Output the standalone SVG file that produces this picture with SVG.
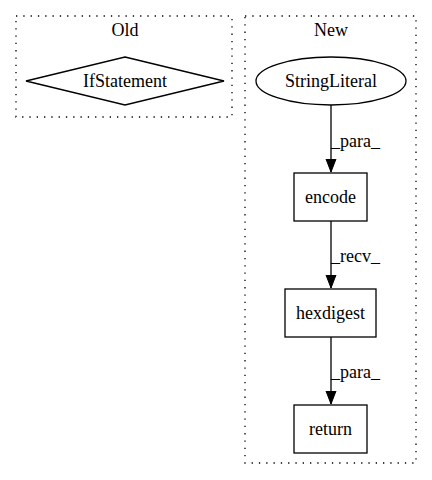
<svg xmlns="http://www.w3.org/2000/svg" width="432" height="480" viewBox="0 0 432 480">
<defs>
<style>
text{font-family:"Liberation Serif","Times New Roman",serif;font-size:18px;fill:#000}
.c{fill:none;stroke:#000;stroke-width:1.3;stroke-dasharray:1.3,6}
.n{fill:#fff;stroke:#000;stroke-width:1.3}
.e{fill:none;stroke:#000;stroke-width:1.3}
</style>
<marker id="ah" markerWidth="14" markerHeight="12" refX="13" refY="6" orient="auto" markerUnits="userSpaceOnUse">
<path d="M0,1 L13,6 L0,11 Z" fill="#000" stroke="#000"/>
</marker>
</defs>
<rect width="432" height="480" fill="#fff"/>
<g id="cluster_old">
<rect class="c" x="16" y="16" width="216" height="101"/>
<text x="125" y="36" text-anchor="middle">Old</text>
</g>
<g id="cluster_new">
<rect class="c" x="245" y="16" width="171" height="447"/>
<text x="331" y="36" text-anchor="middle">New</text>
</g>
<g id="IfStatement">
<polygon class="n" points="125,57 224,81 125,105 26,81"/>
<text x="125" y="87" text-anchor="middle">IfStatement</text>
</g>
<g id="StringLiteral">
<ellipse class="n" cx="331" cy="81" rx="75" ry="24"/>
<text x="331" y="87" text-anchor="middle">StringLiteral</text>
</g>
<g id="encode">
<rect class="n" x="294" y="173" width="73" height="48"/>
<text x="330.5" y="203" text-anchor="middle">encode</text>
</g>
<g id="hexdigest">
<rect class="n" x="285" y="289" width="91" height="48"/>
<text x="330.5" y="319" text-anchor="middle">hexdigest</text>
</g>
<g id="return">
<rect class="n" x="294" y="405" width="73" height="48"/>
<text x="330.5" y="435" text-anchor="middle">return</text>
</g>
<g id="edges">
<path class="e" d="M331,105 L331,172" marker-end="url(#ah)"/>
<text x="331" y="147">_para_</text>
<path class="e" d="M331,221 L331,288" marker-end="url(#ah)"/>
<text x="331" y="262">_recv_</text>
<path class="e" d="M331,337 L331,404" marker-end="url(#ah)"/>
<text x="331" y="378">_para_</text>
</g>
</svg>
